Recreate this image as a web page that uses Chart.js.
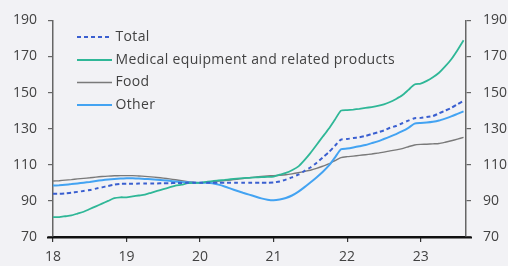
<!DOCTYPE html>
<html>
<head>
<meta charset="utf-8">
<script src="https://cdn.jsdelivr.net/npm/chart.js@4.4.0/dist/chart.umd.min.js"></script>
<style>
  html, body { margin: 0; padding: 0; background: #f2f2f5; }
  #wrap { width: 508px; height: 266px; position: relative; }
</style>
</head>
<body>
<div id="wrap"><canvas id="c" width="508" height="266"></canvas></div>
<script>
// Monthly index, Jan 2018 (index 0) to Aug 2023 (index 67)
const tickLabels = ['18', '19', '20', '21', '22', '23'];
const seriesNames = ['Total', 'Medical equipment and related products', 'Food', 'Other'];

const total = [94, 94, 94.2, 94.5, 95, 95.5, 96, 96.8, 97.5, 98.3, 99, 99.4,
  99.5, 99.5, 99.6, 99.6, 99.7, 99.7, 99.8, 99.8, 99.9, 99.9, 100, 100,
  100, 100, 100, 100, 100, 100, 100, 100, 100, 100, 100.1, 100.1,
  100.2, 100.8, 101.8, 103, 104.5, 106.5, 108.5, 111, 114, 117, 120.5, 124,
  124.3, 124.8, 125.3, 126, 127, 128, 129, 130.5, 131.5, 133, 134.5, 135.8,
  136, 136.5, 137, 138.5, 140, 141.5, 143.5, 145.5];

const medical = [81, 81, 81.5, 82, 83, 84, 85.5, 87, 88.5, 90, 91.5, 92,
  92, 92.5, 93, 93.5, 94.5, 95.5, 96.5, 97.5, 98.5, 99, 99.8, 100,
  100, 100.5, 101, 101.3, 101.6, 102, 102.3, 102.6, 102.8, 103, 103.2, 103.3,
  103.5, 104.5, 105.5, 107, 109, 112.5, 116.5, 121, 125.5, 130, 135, 140,
  140.3, 140.6, 141, 141.5, 142, 142.6, 143.5, 144.8, 146.5, 148.5, 151.5, 154.5,
  155, 156.5, 158.5, 161, 164.5, 168.5, 173.5, 179];

const food = [101, 101.2, 101.5, 101.8, 102.2, 102.5, 102.8, 103.2, 103.5, 103.7, 103.9, 104,
  104, 104, 103.8, 103.6, 103.3, 103, 102.6, 102.2, 101.7, 101.2, 100.7, 100.3,
  100, 100.3, 100.7, 101, 101.3, 101.6, 102, 102.4, 102.8, 103.2, 103.5, 103.8,
  104, 104.2, 104.5, 105, 105.6, 106.3, 107, 108, 109.2, 110.5, 112.3, 114,
  114.5, 114.8, 115.2, 115.6, 116, 116.5, 117, 117.7, 118.3, 119, 120, 121,
  121.3, 121.4, 121.6, 121.8, 122.5, 123.3, 124.2, 125.2];

const other = [98.5, 98.7, 99, 99.3, 99.7, 100.1, 100.5, 101, 101.5, 101.9, 102.2, 102.4,
  102.5, 102.5, 102.4, 102.2, 102, 101.7, 101.4, 101.1, 100.8, 100.5, 100.3, 100.1,
  100, 100, 99.8, 99, 98, 96.8, 95.6, 94.5, 93.5, 92.4, 91.4, 90.7,
  90.4, 90.8, 91.6, 93, 95, 97.5, 100.2, 103, 106, 109.5, 114, 118.6,
  119, 119.6, 120.3, 121, 122, 123, 124.3, 125.6, 127, 128.6, 130.5, 132.8,
  133.2, 133.4, 133.8, 134.5, 135.6, 136.8, 138.2, 139.6];

const colors = ['#3a5fd0', '#2fb797', '#7a7a7a', '#43a3f2'];
const widths = [2, 1.8, 1.4, 2];
const dashes = [[4, 3], [], [], []];

const FONT = "'Open Sans', 'DejaVu Sans', sans-serif";
const TEXT = '#424242';
const toPts = arr => arr.map((v, i) => ({ x: i, y: v }));

const datasets = [total, medical, food, other].map((arr, k) => ({
  label: seriesNames[k],
  data: toPts(arr),
  borderColor: colors[k],
  backgroundColor: colors[k],
  borderWidth: widths[k],
  borderDash: dashes[k],
  pointRadius: 0,
  tension: 0.2,
  fill: false,
  yAxisID: 'y'
}));
datasets[0].order = 0;
datasets[1].order = 1;
datasets[2].order = 3;
datasets[3].order = 2;

const bgPlugin = {
  id: 'bg',
  beforeDraw(chart) {
    const ctx = chart.ctx;
    ctx.save();
    ctx.fillStyle = '#f2f2f5';
    ctx.fillRect(0, 0, chart.width, chart.height);
    ctx.restore();
  }
};

const baselinePlugin = {
  id: 'baseline',
  afterDraw(chart) {
    const a = chart.chartArea, ctx = chart.ctx;
    ctx.save();
    ctx.strokeStyle = '#111';
    ctx.lineWidth = 2;
    ctx.beginPath();
    ctx.moveTo(a.left - 6, a.bottom + 0.5);
    ctx.lineTo(a.right + 6, a.bottom + 0.5);
    ctx.stroke();
    ctx.restore();
  }
};

const legendPlugin = {
  id: 'inlineLegend',
  afterDraw(chart) {
    const ctx = chart.ctx;
    const x0 = 77, len = 35, rowY = [37, 60, 82.5, 105];
    ctx.save();
    chart.data.datasets.forEach((ds, i) => {
      const y = rowY[i];
      ctx.beginPath();
      ctx.strokeStyle = ds.borderColor;
      ctx.lineWidth = ds.borderWidth;
      ctx.setLineDash(ds.borderDash || []);
      ctx.moveTo(x0, y);
      ctx.lineTo(x0 + len, y);
      ctx.stroke();
      ctx.setLineDash([]);
      ctx.fillStyle = TEXT;
      ctx.font = '14px ' + FONT;
      if ('letterSpacing' in ctx) ctx.letterSpacing = '0.35px';
      ctx.textBaseline = 'middle';
      ctx.textAlign = 'left';
      ctx.fillText(ds.label, x0 + len + 3.5, y);
    });
    ctx.restore();
  }
};

new Chart(document.getElementById('c'), {
  type: 'line',
  data: { datasets },
  options: {
    responsive: false,
    animation: false,
    devicePixelRatio: 1,
    layout: { padding: { top: 18, left: 0, right: 0, bottom: 0 } },
    plugins: { legend: { display: false }, tooltip: { enabled: false } },
    scales: {
      x: {
        type: 'linear',
        min: 0,
        max: 67.4,
        afterFit(s) { s.height = 29; },
        border: { color: '#111', width: 2 },
        grid: { drawOnChartArea: false, drawTicks: true, tickLength: 5, color: '#333', lineWidth: 1.2 },
        ticks: {
          stepSize: 12,
          includeBounds: false,
          autoSkip: false,
          maxRotation: 0,
          padding: 7,
          color: TEXT,
          font: { family: FONT, size: 14 },
          callback: v => (v % 12 === 0 ? tickLabels[v / 12] : '')
        }
      },
      y: {
        position: 'left',
        min: 70,
        max: 190,
        afterFit(s) { s.width = 53; },
        border: { color: '#666', width: 1.5 },
        grid: { drawOnChartArea: false, tickLength: 5, color: '#666', lineWidth: 1.2 },
        ticks: { stepSize: 20, padding: 11, color: TEXT, font: { family: FONT, size: 14 } }
      },
      y2: {
        position: 'right',
        min: 70,
        max: 190,
        afterFit(s) { s.width = 42; },
        border: { color: '#666', width: 1.5 },
        grid: { drawOnChartArea: false, tickLength: 5, color: '#666', lineWidth: 1.2 },
        ticks: { stepSize: 20, padding: 12, color: TEXT, font: { family: FONT, size: 14 } }
      }
    }
  },
  plugins: [bgPlugin, baselinePlugin, legendPlugin]
});
</script>
</body>
</html>
